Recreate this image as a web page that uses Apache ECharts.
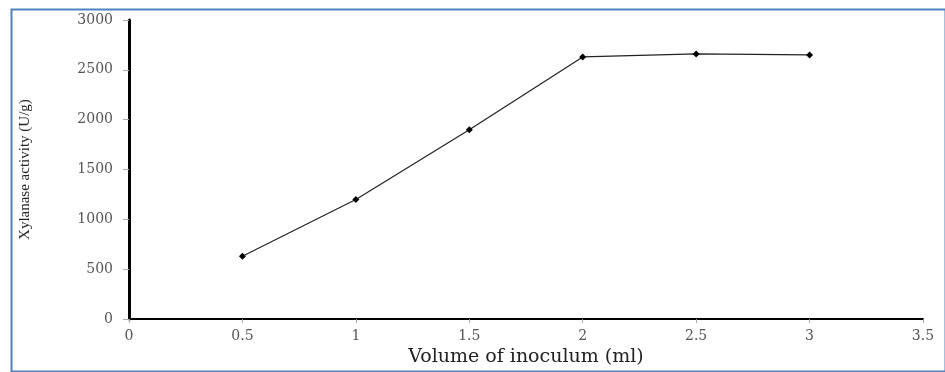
<!DOCTYPE html>
<html>
<head>
<meta charset="utf-8">
<script src="https://cdn.jsdelivr.net/npm/echarts@6/dist/echarts.min.js"></script>
<style>
  html, body { margin: 0; padding: 0; background: #fff; }
  #chart { width: 945px; height: 372px; }
</style>
</head>
<body>
<div id="chart"></div>
<script>
// Inoculum volume (ml) and measured xylanase activity (U/g)
const volumes = [0.5, 1, 1.5, 2, 2.5, 3];
const activity = [630, 1200, 1900, 2630, 2660, 2650];
const xTicks = [0, 0.5, 1, 1.5, 2, 2.5, 3, 3.5];
const yTicks = [0, 500, 1000, 1500, 2000, 2500, 3000];

const chart = echarts.init(document.getElementById('chart'));
const serif = '"DejaVu Serif", "Liberation Serif", serif';

chart.setOption({
  animation: false,
  backgroundColor: '#fff',
  grid: { left: 129, right: 22, top: 20, bottom: 48 },
  graphic: [{
    type: 'rect',
    left: 9, top: 7,
    shape: { width: 934, height: 362 },
    style: { fill: 'none', stroke: '#4f81bd', lineWidth: 2 },
    silent: true
  }],
  xAxis: {
    type: 'value',
    min: xTicks[0], max: xTicks[xTicks.length - 1], interval: 0.5,
    name: 'Volume of inoculum (ml)',
    nameLocation: 'middle', nameGap: 28,
    nameTextStyle: { fontFamily: serif, fontSize: 19, color: '#222' },
    axisLine: { lineStyle: { color: '#000', width: 2 } },
    axisTick: { length: 4, lineStyle: { color: '#aaa' } },
    axisLabel: { fontFamily: serif, fontSize: 14, color: '#555', margin: 10,
      formatter: v => String(v) },
    splitLine: { show: false }
  },
  yAxis: {
    type: 'value',
    min: yTicks[0], max: yTicks[yTicks.length - 1], interval: 500,
    name: 'Xylanase activity (U/g)',
    nameLocation: 'middle', nameGap: 96, nameRotate: 90,
    nameTextStyle: { fontFamily: '"Liberation Serif", serif', fontSize: 15, color: '#222' },
    axisLine: { show: true, lineStyle: { color: '#000', width: 3 } },
    axisTick: { show: true, length: 6, lineStyle: { color: '#aaa' } },
    axisLabel: { fontFamily: serif, fontSize: 14, color: '#555', margin: 16,
      formatter: v => String(v) },
    splitLine: { show: false }
  },
  series: [{
    type: 'line',
    data: volumes.map((v, i) => [v, activity[i]]),
    lineStyle: { color: '#222', width: 1.2 },
    symbol: 'diamond', symbolSize: 7,
    itemStyle: { color: '#000' }
  }]
});
</script>
</body>
</html>
